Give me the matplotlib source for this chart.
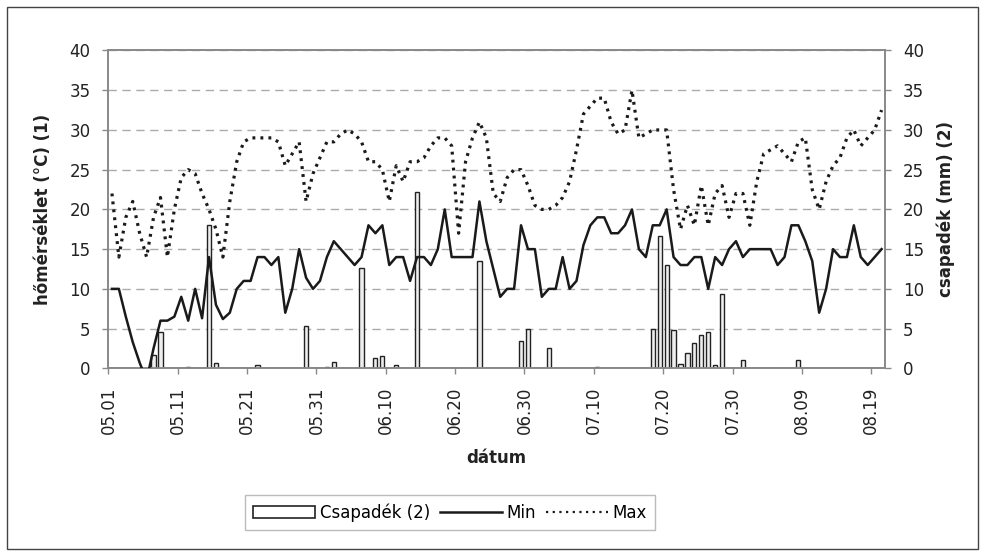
import matplotlib
matplotlib.use("Agg")
import matplotlib.pyplot as plt
import matplotlib.dates as mdates
from matplotlib.patches import Rectangle
from matplotlib.lines import Line2D
import pandas as pd

plt.rcParams['font.family'] = ['DejaVu Sans']

# daily values from 05.01, one entry per day
start_date = "2000-05-01"

t_min = [10, 10, 6.5, 3.3, 0.7, -1.5, 2.5, 6, 6, 6.5,
         9, 6, 10, 6.3, 14, 8, 6.2, 7, 10, 11,
         11, 14, 14, 13, 14, 7, 10, 15, 11.4, 10,
         11, 14, 16, 15, 14, 13, 14, 18, 17, 18,
         13, 14, 14, 11, 14, 14, 13, 15, 20, 14,
         14, 14, 14, 21, 16, 12.5, 9, 10, 10, 18,
         15, 15, 9, 10, 10, 14, 10, 11, 15.5, 18,
         19, 19, 17, 17, 18, 20, 15, 14, 18, 18,
         20, 14, 13, 13, 14, 14, 10, 14, 13, 15,
         16, 14, 15, 15, 15, 15, 13, 14, 18, 18,
         16, 13.5, 7, 10, 15, 14, 14, 18, 14, 13,
         14, 15]

t_max = [22, 14, 19, 21, 17, 14, 19, 21.5, 14, 20,
         24, 25, 24.5, 22, 20, 17.5, 14, 21, 26, 28.5,
         29, 29, 29, 29, 28.5, 25.5, 27, 28.5, 21, 24.5,
         26.5, 28.5, 28.5, 29.5, 30, 29.5, 28.5, 26, 26, 25,
         21, 25.5, 23.5, 26, 26, 26.5, 28, 29, 29, 28,
         17, 26, 29, 31, 29, 22, 21, 24, 25, 25,
         23, 20.5, 20, 20, 20.5, 21.5, 23.5, 27.5, 32, 33,
         34, 34, 31, 29.5, 30, 35, 29, 29.5, 30, 30,
         30, 22.5, 17.5, 20.5, 18, 23, 18, 22, 23, 19,
         22, 22, 18, 23.5, 27, 27.5, 28, 27, 26, 28.5,
         29, 22.5, 20, 23.5, 25.5, 26.5, 29, 30, 28, 29,
         30, 32.5]

precip = [0, 0, 0, 0, 0, 0, 1.7, 4.6, 0, 0,
          0, 0.2, 0, 0, 18, 0.7, 0, 0, 0, 0,
          0, 0.4, 0, 0, 0, 0, 0, 0, 5.3, 0,
          0, 0.2, 0.8, 0, 0, 0, 12.6, 0, 1.3, 1.5,
          0, 0.4, 0, 0, 22.2, 0, 0, 0, 0, 0,
          0, 0, 0, 13.5, 0, 0, 0, 0, 0, 3.4,
          5, 0, 0, 2.5, 0, 0, 0, 0, 0, 0,
          0.2, 0, 0, 0, 0, 0, 0, 0, 5, 16.6,
          13, 4.8, 0.6, 1.9, 3.2, 4.2, 4.6, 0.4, 9.3, 0,
          0, 1.1, 0, 0, 0, 0, 0, 0, 0, 1.1,
          0, 0, 0, 0, 0, 0, 0, 0, 0, 0,
          0, 0]

days = pd.date_range(start_date, periods=len(t_min), freq="D")
x = days + pd.Timedelta(hours=12)
tick_days = days[::10]

fig = plt.figure(figsize=(9.87, 5.59), dpi=100)
ax = fig.add_axes([0.1099, 0.3411, 0.7868, 0.5686])
ax2 = ax.twinx()
ax.set_zorder(ax2.get_zorder() + 1)
ax.patch.set_visible(False)

# precipitation columns on the right axis, behind the temperature lines
ax2.bar(x, precip, width=0.6, facecolor="#eeeeee", edgecolor="#222222",
        linewidth=1.0, zorder=3)
ax2.set_axisbelow(True)
ax2.yaxis.grid(True, color="#ababab", linestyle=(0, (6, 4)), linewidth=1.0)

ax.plot(x, t_min, color="#1a1a1a", linewidth=1.8, zorder=4)
ax.plot(x, t_max, color="#1a1a1a", linewidth=2.3, linestyle=(0, (0.9, 1.6)),
        zorder=4)

for a in (ax, ax2):
    a.set_ylim(0, 40)
    a.set_yticks(range(0, 41, 5))
    a.set_xlim(days[0], days[0] + pd.Timedelta(days=len(days)))
    for s in a.spines.values():
        s.set_color("#8a8a8a")
        s.set_linewidth(1.3)
    a.tick_params(axis="y", direction="out", length=4.5, width=1,
                  color="#8a8a8a", labelsize=12, labelcolor="#222222", pad=8.4)

ax.set_xticks(tick_days)
ax.xaxis.set_major_formatter(mdates.DateFormatter("%m.%d"))
ax.tick_params(axis="x", direction="out", length=4, width=1, color="#8a8a8a",
               labelsize=12, labelcolor="#222222", labelrotation=90, pad=9)
ax2.tick_params(axis="x", bottom=False, labelbottom=False)

ax.set_ylabel("hőmérséklet (°C) (1)", fontsize=12, fontweight="bold",
              color="#222222")
ax.yaxis.set_label_coords(-0.073, 0.5)
ax2.set_ylabel("csapadék (mm) (2)", fontsize=12, fontweight="bold",
               color="#222222")
ax2.yaxis.set_label_coords(1.066, 0.5)
ax.set_xlabel("dátum", fontsize=12, fontweight="bold", color="#222222")
ax.xaxis.set_label_coords(0.5, -0.254)

handles = [
    Rectangle((0, 0), 1, 1, facecolor="white", edgecolor="#222222", linewidth=1.2),
    Line2D([], [], color="#1a1a1a", linewidth=1.8),
    Line2D([], [], color="#1a1a1a", linewidth=1.6, linestyle=(0, (1, 2))),
]
leg = fig.legend(handles, ["Csapadék (2)", "Min", "Max"], ncol=3,
                 loc="center", bbox_to_anchor=(0.456, 0.083),
                 bbox_transform=fig.transFigure, fontsize=12,
                 handlelength=3.7, handleheight=0.7, handletextpad=0.3,
                 columnspacing=0.6, borderpad=0.5, fancybox=False,
                 framealpha=1, edgecolor="#bbbbbb")
leg.get_frame().set_linewidth(1.0)

# thin frame around the whole chart
fig.patches.append(Rectangle((7 / 987, 1 - 549 / 559), 971 / 987, 542 / 559,
                             transform=fig.transFigure, fill=False,
                             edgecolor="#444444", linewidth=1.0))

fig.savefig("out.png", dpi=100, facecolor="white")
